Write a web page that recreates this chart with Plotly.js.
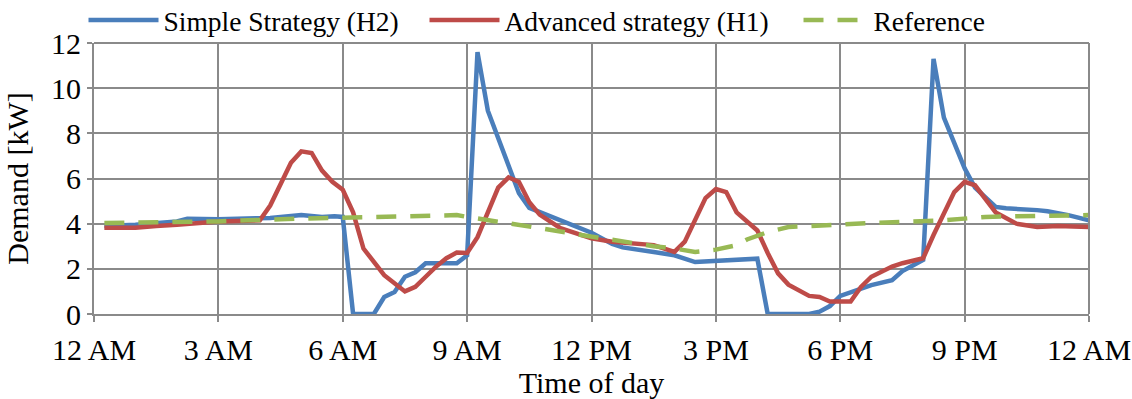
<!DOCTYPE html>
<html>
<head>
<meta charset="utf-8">
<script src="https://cdn.plot.ly/plotly-3.0.1.min.js"></script>
<style>html,body{margin:0;padding:0;background:#fff;}#chart{width:1132px;height:399px;}</style>
</head>
<body>
<div id="chart"></div>
<script>
// Time of day in hours
const tickValues = [0, 3, 6, 9, 12, 15, 18, 21, 24];
const tickLabels = ["12 AM", "3 AM", "6 AM", "9 AM", "12 PM", "3 PM", "6 PM", "9 PM", "12 AM"];

// Simple Strategy (H2)
const simpleTime = [0.25, 1.0, 2.0, 2.25, 3.0, 4.25, 5.0, 5.5, 5.8, 6.0, 6.25, 6.75, 7.0, 7.25, 7.5, 7.75, 8.0, 8.75, 9.0, 9.25, 9.5, 10.25, 10.5, 11.0, 11.5, 11.75, 12.0, 12.5, 12.75, 13.5, 14.0, 14.5, 15.0, 15.5, 16.0, 16.25, 17.25, 17.5, 17.75, 18.0, 18.25, 18.75, 19.25, 19.5, 19.75, 20.0, 20.25, 20.5, 21.0, 21.25, 21.75, 22.0, 22.75, 23.0, 23.5, 24.0];
const simpleDemand = [3.9, 3.95, 4.1, 4.22, 4.2, 4.25, 4.38, 4.3, 4.33, 4.3, 0, 0, 0.75, 0.97, 1.65, 1.85, 2.25, 2.25, 2.6, 11.6, 9.0, 5.35, 4.7, 4.35, 4.0, 3.8, 3.6, 3.1, 2.95, 2.75, 2.6, 2.3, 2.35, 2.4, 2.45, 0, 0, 0.1, 0.35, 0.8, 0.97, 1.28, 1.5, 1.9, 2.15, 2.4, 11.3, 8.7, 6.45, 5.6, 4.74, 4.68, 4.6, 4.55, 4.38, 4.15];

// Advanced strategy (H1)
const advancedTime = [0.25, 1.0, 1.5, 2.0, 3.0, 4.0, 4.25, 4.5, 4.75, 5.0, 5.25, 5.5, 5.75, 6.0, 6.25, 6.5, 6.75, 7.0, 7.5, 7.75, 8.0, 8.25, 8.5, 8.75, 9.0, 9.25, 9.75, 10.0, 10.25, 10.5, 10.75, 11.25, 12.0, 12.5, 13.5, 14.0, 14.25, 14.75, 15.0, 15.25, 15.5, 15.75, 16.0, 16.25, 16.5, 16.75, 17.25, 17.5, 17.75, 18.25, 18.5, 18.75, 19.0, 19.25, 19.5, 20.0, 20.25, 20.75, 21.0, 21.25, 21.75, 22.25, 22.75, 23.25, 24.0];
const advancedDemand = [3.82, 3.82, 3.9, 3.95, 4.1, 4.15, 4.8, 5.7, 6.7, 7.2, 7.13, 6.35, 5.85, 5.5, 4.5, 2.9, 2.3, 1.72, 1.0, 1.2, 1.65, 2.1, 2.47, 2.72, 2.7, 3.4, 5.6, 6.05, 5.85, 4.95, 4.4, 3.8, 3.35, 3.2, 3.05, 2.75, 3.2, 5.13, 5.53, 5.4, 4.5, 4.07, 3.7, 2.7, 1.8, 1.3, 0.8, 0.75, 0.55, 0.55, 1.2, 1.65, 1.86, 2.1, 2.25, 2.47, 3.5, 5.4, 5.85, 5.7, 4.5, 4.0, 3.85, 3.9, 3.85];

// Reference
const referenceTime = [0.25, 3.0, 4.5, 6.0, 7.0, 8.0, 8.75, 9.0, 9.75, 10.75, 11.75, 12.75, 13.5, 14.0, 14.5, 15.0, 15.5, 15.75, 16.25, 16.75, 17.5, 18.75, 19.75, 20.5, 21.5, 22.5, 23.5, 24.0];
const referenceDemand = [4.03, 4.1, 4.2, 4.28, 4.3, 4.38, 4.38, 4.3, 4.1, 3.8, 3.5, 3.2, 3.0, 2.9, 2.75, 2.85, 3.05, 3.3, 3.63, 3.85, 3.9, 4.03, 4.1, 4.15, 4.3, 4.33, 4.38, 4.38];

const FONT = "Liberation Serif, Times New Roman, serif";
const FS = 30;
const LFS = 27.5;
const GRID = "#8a8a8a";

const traces = [
  {x: simpleTime, y: simpleDemand, name: "Simple Strategy (H2)", mode: "lines", legend: "legend",
   line: {color: "#4A7EBB", width: 4.5}},
  {x: advancedTime, y: advancedDemand, name: "Advanced strategy (H1)", mode: "lines", legend: "legend2",
   line: {color: "#BE4B48", width: 4.5}},
  {x: referenceTime, y: referenceDemand, name: "Reference", mode: "lines", legend: "legend3",
   line: {color: "#98B954", width: 4.5, dash: "20px,14px"}}
];

function legendAt(xpx) {
  return {orientation: "h", xref: "container", yref: "container", x: xpx / 1132, y: 1 - 20 / 399,
          xanchor: "left", yanchor: "middle",
          font: {family: FONT, size: LFS, color: "#000"}, itemwidth: 70,
          bgcolor: "rgba(0,0,0,0)", borderwidth: 0};
}

const layout = {
  width: 1132, height: 399,
  margin: {l: 94, r: 43, t: 43, b: 85, autoexpand: false},
  paper_bgcolor: "#fff", plot_bgcolor: "#fff",
  font: {family: FONT, size: FS, color: "#000"},
  showlegend: true,
  legend: legendAt(83.5),
  legend2: legendAt(424.5),
  legend3: legendAt(793.5),
  xaxis: {
    range: [0, 24], tickmode: "array", tickvals: tickValues, ticktext: tickLabels,
    showgrid: true, gridcolor: GRID, gridwidth: 2,
    showline: true, linecolor: GRID, linewidth: 2,
    ticks: "outside", ticklen: 6, tickwidth: 2, tickcolor: GRID,
    ticklabelstandoff: 2,
    zeroline: false, fixedrange: true,
    tickfont: {family: FONT, size: FS, color: "#000"},
    title: {text: "Time of day", font: {family: FONT, size: FS, color: "#000"}, standoff: 7}
  },
  yaxis: {
    range: [0, 12], dtick: 2, tick0: 0,
    showgrid: true, gridcolor: GRID, gridwidth: 2,
    showline: true, linecolor: GRID, linewidth: 2,
    ticks: "outside", ticklen: 5, tickwidth: 2, tickcolor: GRID,
    zeroline: false, fixedrange: true,
    tickfont: {family: FONT, size: FS, color: "#000"},
    title: {text: "Demand [kW]", font: {family: FONT, size: FS, color: "#000"}, standoff: 14}
  },
  shapes: [
    {type: "line", xref: "paper", yref: "paper", x0: 0, x1: 1, y0: 1, y1: 1, line: {color: GRID, width: 2}},
    {type: "line", xref: "paper", yref: "paper", x0: 1, x1: 1, y0: 0, y1: 1, line: {color: GRID, width: 2}}
  ]
};

Plotly.newPlot("chart", traces, layout, {displayModeBar: false, staticPlot: true}).then(function (gd) {
  // lengthen the legend line samples to fill the wider item symbol area
  const lines = gd.querySelectorAll(".legendlines path");
  lines.forEach(function (p, i) {
    p.setAttribute("d", i === lines.length - 1 ? "M10,0h55" : "M5,0h70");
  });
});
</script>
</body>
</html>
